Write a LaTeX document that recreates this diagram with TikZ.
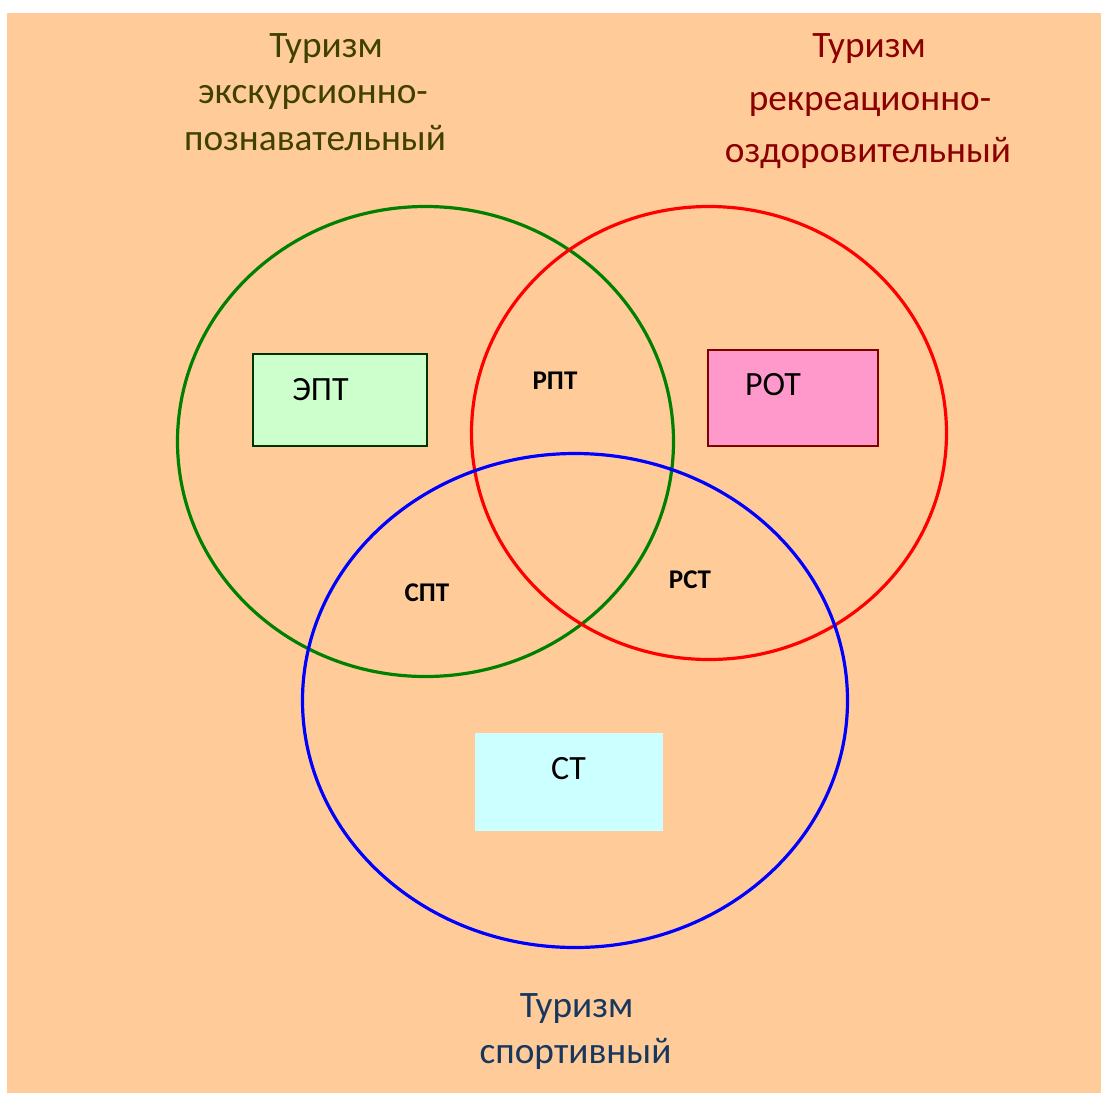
\documentclass[tikz,border=0pt]{standalone}
\usepackage{fontspec}
\setmainfont{Carlito}
\usetikzlibrary{shapes.geometric}
\definecolor{bgpeach}{HTML}{FFCC99}
\definecolor{olivetxt}{HTML}{404000}
\definecolor{redtxt}{HTML}{8B0000}
\definecolor{bluetxt}{HTML}{17375E}
\definecolor{eptfill}{HTML}{CCFFCC}
\definecolor{eptdraw}{HTML}{003300}
\definecolor{rotfill}{HTML}{FF99CC}
\definecolor{rotdraw}{HTML}{800000}
\definecolor{stfill}{HTML}{CCFFFF}
\tikzset{
  setring/.style={ellipse, draw, line width=3.2pt, inner sep=0pt},
  bigtxt/.style={anchor=base, inner sep=0pt, font=\fontsize{34}{40}\selectfont},
  titletxt/.style={anchor=base, inner sep=0pt, font=\fontsize{37.3}{44}\selectfont},
  smalltxt/.style={anchor=base, inner sep=0pt, font=\fontsize{27}{32}\selectfont\bfseries},
  boxstyle/.style={anchor=north west, inner sep=0pt, line width=1.5pt},
}
\begin{document}
\begin{tikzpicture}[x=1pt,y=-1pt]
\useasboundingbox (0,0) rectangle (1101,1093);
\fill[bgpeach] (7,13) rectangle (1101,1093);
% sets
\node[setring, draw={rgb,255:red,0;green,128;blue,0}, minimum width=496pt, minimum height=470pt] (green) at (425.5,441.5) {};
\node[setring, draw=red, minimum width=475pt, minimum height=453pt] (red) at (709,433) {};
\node[setring, draw=blue, minimum width=545pt, minimum height=494pt] (blue) at (575,700.5) {};
% boxes
\node[boxstyle, draw=eptdraw, fill=eptfill, minimum width=174pt, minimum height=92pt] (eptbox) at (252,353) {};
\node[boxstyle, draw=rotdraw, fill=rotfill, minimum width=170pt, minimum height=96pt] (rotbox) at (707,349) {};
\node[boxstyle, fill=stfill, minimum width=188pt, minimum height=98pt] (stbox) at (474,732) {};
\node[bigtxt] (ept) at (320.5,400) {ЭПТ};
\node[bigtxt] (rot) at (773,395) {РОТ};
\node[bigtxt] (st) at (568.5,779) {СТ};
% intersection labels
\node[smalltxt] (rpt) at (555,389) {РПТ};
\node[smalltxt] (spt) at (427,601) {СПТ};
\node[smalltxt] (rst) at (690,588) {РСТ};
% titles
\node[titletxt, text=olivetxt] (t1a) at (326,57) {Туризм};
\node[titletxt, text=olivetxt] (t1b) at (313,103.5) {экскурсионно-};
\node[titletxt, text=olivetxt] (t1c) at (315,150) {познавательный};
\node[titletxt, text=redtxt] (t2a) at (869,57) {Туризм};
\node[titletxt, text=redtxt] (t2b) at (870,110) {рекреационно-};
\node[titletxt, text=redtxt] (t2c) at (868,162.5) {оздоровительный};
\node[titletxt, text=bluetxt] (t3a) at (576.5,1017) {Туризм};
\node[titletxt, text=bluetxt] (t3b) at (575.5,1063) {спортивный};
\end{tikzpicture}
\end{document}
